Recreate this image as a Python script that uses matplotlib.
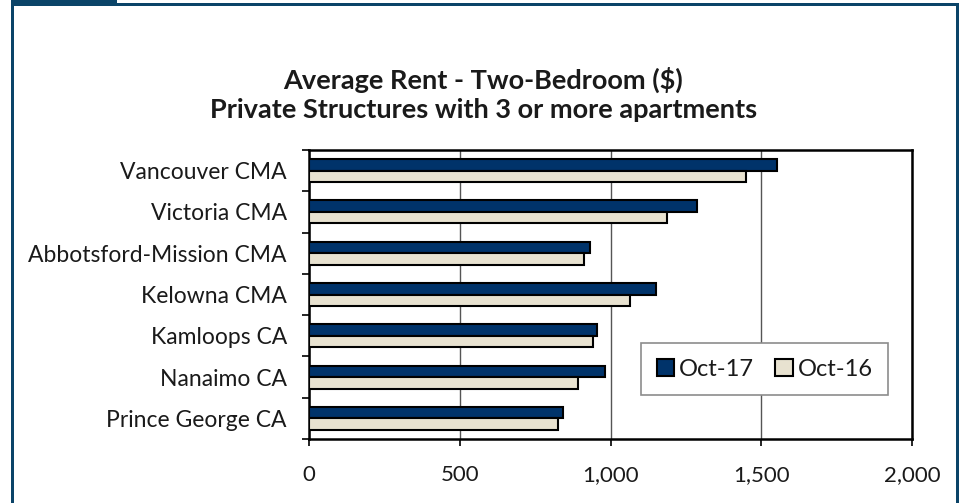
"""Average two-bedroom rent, BC centres, Oct-16 vs Oct-17."""
import numpy as np
import matplotlib; matplotlib.use("Agg")
import matplotlib.pyplot as plt
from matplotlib.patches import Rectangle, Patch

plt.rcParams["font.family"] = ["Lato", "DejaVu Sans"]

centres = ["Vancouver CMA", "Victoria CMA", "Abbotsford-Mission CMA", "Kelowna CMA",
           "Kamloops CA", "Nanaimo CA", "Prince George CA"]
oct17 = [1552, 1287, 932, 1152, 956, 983, 844]
oct16 = [1449, 1188, 913, 1065, 943, 893, 825]
xticks = [0, 500, 1000, 1500, 2000]

DARK, LIGHT, FRAME, TXT = "#00336A", "#E8E2D0", "#0B4468", "#1a1a1a"
W, H = 961, 503

fig = plt.figure(figsize=(W / 100, H / 100), dpi=100)
# frame around the panel (pixel fractions)
for x0, y0, w, h in [(11, 3, 3, 500), (11, 3, 948, 2.5), (956, 3, 3, 500), (11, 0, 106, 5)]:
    fig.add_artist(Rectangle((x0 / W, 1 - (y0 + h) / H), w / W, h / H,
                             transform=fig.transFigure, color=FRAME, lw=0))

ax = fig.add_axes([309 / W, 1 - 439 / H, 603 / W, 289 / H])
y = np.arange(len(centres))
bh = 0.28
ax.barh(y - bh / 2, oct17, height=bh, color=DARK, edgecolor="black", lw=1.5, zorder=3)
ax.barh(y + bh / 2, oct16, height=bh, color=LIGHT, edgecolor="black", lw=1.5, zorder=3)

ax.set_xlim(0, 2000); ax.set_ylim(len(centres) - 0.5, -0.5)
ax.set_xticks(xticks)
ax.set_xticklabels([f"{v:,}" for v in xticks], fontsize=16, color=TXT)
ax.tick_params(axis="x", length=5, width=1.2, pad=14)
ax.set_yticks(np.arange(-0.5, len(centres)), labels=[])
ax.tick_params(axis="y", which="major", length=5, width=1.2)
ax.set_yticks(y, minor=True)
ax.set_yticklabels(centres, minor=True, fontsize=16.5, color=TXT)
ax.tick_params(axis="y", which="minor", length=0, pad=16)
ax.xaxis.grid(True, color="#555555", lw=1, zorder=0)
for s in ax.spines.values():
    s.set_linewidth(1.8)

fig.text(0.503, 1 - 80 / H, "Average Rent - Two-Bedroom ($)", ha="center", va="center",
         fontsize=19.5, fontweight="bold", color=TXT)
fig.text(0.503, 1 - 110 / H, "Private Structures with 3 or more apartments", ha="center",
         va="center", fontsize=19.5, fontweight="bold", color=TXT)

handles = [Patch(facecolor=DARK, edgecolor="black", lw=1.5),
           Patch(facecolor=LIGHT, edgecolor="black", lw=1.5)]
leg = ax.legend(handles, ["Oct-17", "Oct-16"], ncol=2, loc="center",
                bbox_to_anchor=(0.756, 0.242), fontsize=17, frameon=True, fancybox=False,
                handlelength=0.75, handleheight=0.75, handletextpad=0.2, columnspacing=0.9,
                borderpad=0.65, borderaxespad=0, framealpha=1)
leg.get_frame().set_edgecolor("#8c8c8c"); leg.get_frame().set_linewidth(1.2)
for t in leg.get_texts():
    t.set_color(TXT)

fig.savefig("out.png", dpi=100)
